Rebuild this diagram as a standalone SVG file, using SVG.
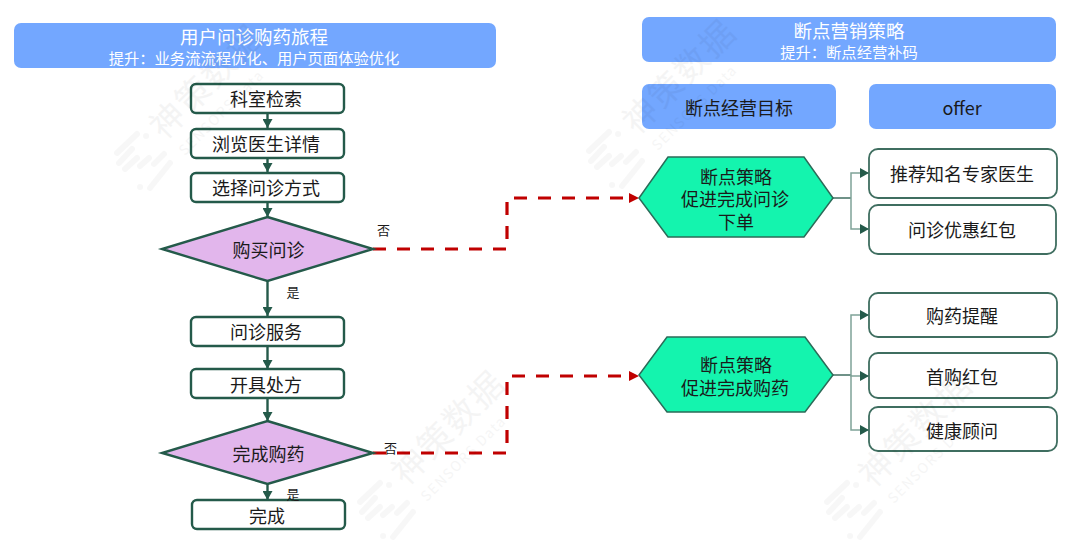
<svg xmlns="http://www.w3.org/2000/svg" width="1080" height="557" viewBox="0 0 1080 557">
<style>
text{font-family:"Noto Sans CJK SC","Noto Sans",sans-serif;text-anchor:middle;fill:#1a1a1a}
.hd{fill:#73a7ff}
.hdt{fill:#fff;font-size:18.500px}
.hds{fill:#fff;font-size:15.300px}
.sub{font-size:18px}
.box{fill:#fff;stroke:#245a4a;stroke-width:2.400}
.obox{fill:#fff;stroke:#3f6e60;stroke-width:1.800}
.dia{fill:#e2b6ec;stroke:#245a4a;stroke-width:2.400}
.hex{fill:#14f4ae;stroke:#2b6b58;stroke-width:1.500}
.t{font-size:18px}
.l{font-size:13px}
.g{fill:none;stroke:#245a4a;stroke-width:2.400}
.th{fill:none;stroke:#7fa398;stroke-width:1.500}
.st{fill:none;stroke:#3f6e60;stroke-width:1.500}
.r{fill:none;stroke:#c00000;stroke-width:3.200;stroke-dasharray:13 11}
text.wm{fill:#000;opacity:.04;font-size:34px;letter-spacing:2px}
text.wms{fill:#000;opacity:.035;font-size:14px;letter-spacing:1.500px}
.lg{fill:none;stroke:#000;opacity:.03;stroke-width:6;stroke-linecap:round}
</style>
<defs>
<marker id="ag" markerUnits="userSpaceOnUse" markerWidth="10" markerHeight="10" refX="9" refY="5" orient="auto"><path d="M0 0L9 5L0 10Z" fill="#245a4a"/></marker>
<g id="logo"><path class="lg" d="M-25-8L-5-27M-23 2L-10-12M-17 8L-5-3M-2 5L7-3M8 27L28 2M12 3L22-7M4-25L4.100-25M-2 26L-1.900 26"/></g>
</defs>
<g id="connectors">
<path class="g" marker-end="url(#ag)" d="M267.500 113V128"/>
<path class="g" marker-end="url(#ag)" d="M267.500 158V172"/>
<path class="g" marker-end="url(#ag)" d="M267.500 202V217"/>
<path class="g" marker-end="url(#ag)" d="M267.500 281V316"/>
<path class="g" marker-end="url(#ag)" d="M267.500 346V369"/>
<path class="g" marker-end="url(#ag)" d="M267.500 398V421"/>
<path class="g" marker-end="url(#ag)" d="M267.500 484V500"/>
<path class="r" d="M373 249H507V198H629"/>
<path class="r" d="M373 453H507V376H629"/>
<path d="M629 193L639 198L629 203Z M629 371L639 376L629 381Z" fill="#c00000"/>
<path class="st" d="M833 198H851"/>
<path class="th" marker-end="url(#ag)" d="M851 198V173H869"/>
<path class="th" marker-end="url(#ag)" d="M851 198V229H869"/>
<path class="st" d="M833 375H851"/>
<path class="th" marker-end="url(#ag)" d="M851 375V315H869"/>
<path class="th" marker-end="url(#ag)" d="M851 375V376H869"/>
<path class="th" marker-end="url(#ag)" d="M851 375V430H869"/>
</g>
<g id="h1"><rect class="hd" x="14" y="23" width="482" height="45" rx="7"/><text class="hdt" x="254" y="44">用户问诊购药旅程</text><text class="hds" x="254" y="63.500">提升：业务流流程优化、用户页面体验优化</text></g>
<g id="h2"><rect class="hd" x="642" y="17" width="414" height="45" rx="7"/><text class="hdt" x="849" y="38">断点营销策略</text><text class="hds" x="849" y="57.500">提升：断点经营补码</text></g>
<g id="h3"><rect class="hd" x="642" y="84" width="194" height="45" rx="7"/><text class="sub" x="739" y="115">断点经营目标</text></g>
<g id="h4"><rect class="hd" x="869" y="84" width="187" height="45" rx="7"/><text class="sub" x="962" y="115">offer</text></g>
<g id="n1"><rect class="box" x="191" y="84" width="153" height="29" rx="5"/><text class="t" x="266" y="106">科室检索</text></g>
<g id="n2"><rect class="box" x="191" y="129" width="153" height="29" rx="5"/><text class="t" x="266" y="151">浏览医生详情</text></g>
<g id="n3"><rect class="box" x="191" y="173" width="153" height="29" rx="5"/><text class="t" x="266" y="195">选择问诊方式</text></g>
<g id="d1"><path class="dia" d="M267.500 217L373 249L267.500 281L162 249Z"/><text class="t" x="268.500" y="257">购买问诊</text></g>
<g id="n4"><rect class="box" x="191" y="317" width="153" height="29" rx="5"/><text class="t" x="266" y="339">问诊服务</text></g>
<g id="n5"><rect class="box" x="191" y="369" width="153" height="29" rx="5"/><text class="t" x="266" y="392">开具处方</text></g>
<g id="d2"><path class="dia" d="M267.500 421L373 453L267.500 484L162 453Z"/><text class="t" x="268.500" y="461">完成购药</text></g>
<g id="n6"><rect class="box" x="192" y="500" width="153" height="29" rx="5"/><text class="t" x="267" y="523">完成</text></g>
<g id="hx1"><path class="hex" d="M668 157H804L833 198L804 237H668L639 198Z"/><text class="t" x="736" y="184">断点策略</text><text class="t" x="735" y="206">促进完成问诊</text><text class="t" x="736" y="229">下单</text></g>
<g id="hx2"><path class="hex" d="M667 337H805L833 375L805 412H667L639 375Z"/><text class="t" x="736" y="372">断点策略</text><text class="t" x="735" y="395">促进完成购药</text></g>
<g id="o1"><rect class="obox" x="869" y="149" width="188" height="49" rx="9"/><text class="t" x="962" y="181">推荐知名专家医生</text></g>
<g id="o2"><rect class="obox" x="869" y="205" width="187" height="49" rx="9"/><text class="t" x="962" y="237">问诊优惠红包</text></g>
<g id="o3"><rect class="obox" x="869" y="293" width="188" height="44" rx="9"/><text class="t" x="962" y="323">购药提醒</text></g>
<g id="o4"><rect class="obox" x="869" y="353" width="188" height="45" rx="9"/><text class="t" x="962" y="384">首购红包</text></g>
<g id="o5"><rect class="obox" x="869" y="407" width="188" height="44" rx="9"/><text class="t" x="962" y="438">健康顾问</text></g>
<g id="labels">
<text class="l" x="383.500" y="235">否</text>
<text class="l" x="293" y="297">是</text>
<text class="l" x="390.500" y="453">否</text>
<text class="l" x="293" y="499">是</text>
</g>
<g id="watermarks">
<use href="#logo" x="142" y="161"/><use href="#logo" x="614" y="159"/><use href="#logo" x="385" y="510"/><use href="#logo" x="852" y="510"/>
<text class="wm" transform="translate(215 90) rotate(-45)">神策数据</text>
<text class="wms" transform="translate(225 116) rotate(-45)">SENSORS Data</text>
<text class="wm" transform="translate(688 85) rotate(-45)">神策数据</text>
<text class="wms" transform="translate(698 111) rotate(-45)">SENSORS Data</text>
<text class="wm" transform="translate(457 436) rotate(-45)">神策数据</text>
<text class="wms" transform="translate(467 462) rotate(-45)">SENSORS Data</text>
<text class="wm" transform="translate(924 438) rotate(-45)">神策数据</text>
<text class="wms" transform="translate(934 464) rotate(-45)">SENSORS Data</text>
</g>
</svg>
